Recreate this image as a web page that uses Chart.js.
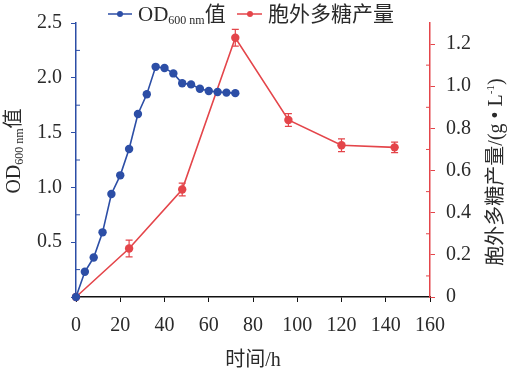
<!DOCTYPE html>
<html>
<head>
<meta charset="utf-8">
<script src="https://cdn.jsdelivr.net/npm/chart.js@4"></script>
<style>
  html, body { margin: 0; padding: 0; background: #fff; }
  #wrap { width: 510px; height: 373px; }
</style>
</head>
<body>
<div id="wrap"><canvas id="myChart" width="510" height="373"></canvas></div>
<script>
// data
var odTime  = [0, 4, 8, 12, 16, 20, 24, 28, 32, 36, 40, 44, 48, 52, 56, 60, 64, 68, 72];
var odValue = [0, 0.23, 0.36, 0.59, 0.94, 1.11, 1.35, 1.67, 1.85, 2.10, 2.09, 2.04, 1.95, 1.94, 1.90, 1.88, 1.87, 1.865, 1.86];

var epsTime  = [0, 24, 48, 72, 96, 120, 144];
var epsValue = [0, 0.23, 0.51, 1.23, 0.84, 0.72, 0.71];
var epsErr   = [0, 0.04, 0.03, 0.04, 0.03, 0.03, 0.025];

var xTicks      = [0, 20, 40, 60, 80, 100, 120, 140, 160];
var yLeftTicks  = [0, 0.5, 1.0, 1.5, 2.0, 2.5];
var yLeftMinor  = [0.25, 0.75, 1.25, 1.75, 2.25];
var yRightTicks = [0, 0.2, 0.4, 0.6, 0.8, 1.0, 1.2];
var yRightMinor = [0.1, 0.3, 0.5, 0.7, 0.9, 1.1];

var blue = '#2c4ea6';
var red = '#e4454a';
var txt = '#2a2a2a';
var serif = '"Liberation Serif", "Noto Sans CJK SC", serif';

function pts(xs, ys) {
  return xs.map(function (x, i) { return { x: x, y: ys[i] }; });
}

// draw a row of text pieces (normal / sub / sup) starting at x, baseline y
function drawPieces(ctx, pieces, x, y, measureOnly) {
  var w = 0;
  pieces.forEach(function (p) {
    ctx.font = p.size + 'px ' + serif;
    var pw = ctx.measureText(p.t).width;
    if (!measureOnly) ctx.fillText(p.t, x + w, y + (p.dy || 0));
    w += pw;
  });
  return w;
}

var decor = {
  id: 'decor',
  beforeDatasetsDraw: function (chart) {
    var ctx = chart.ctx;
    var xs = chart.scales.x, yl = chart.scales.y, yr = chart.scales.y1;
    ctx.save();
    // minor ticks (inward)
    ctx.lineWidth = 1;
    ctx.strokeStyle = blue;
    yLeftMinor.forEach(function (v) {
      var py = yl.getPixelForValue(v);
      ctx.beginPath(); ctx.moveTo(xs.left, py); ctx.lineTo(xs.left + 4, py); ctx.stroke();
    });
    ctx.strokeStyle = red;
    yRightMinor.forEach(function (v) {
      var py = yr.getPixelForValue(v);
      ctx.beginPath(); ctx.moveTo(xs.right, py); ctx.lineTo(xs.right - 4, py); ctx.stroke();
    });
    // error bars
    ctx.strokeStyle = red;
    ctx.lineWidth = 1.2;
    epsTime.forEach(function (t, i) {
      if (!epsErr[i]) return;
      var px = xs.getPixelForValue(t);
      var top = yr.getPixelForValue(epsValue[i] + epsErr[i]);
      var bot = yr.getPixelForValue(epsValue[i] - epsErr[i]);
      ctx.beginPath();
      ctx.moveTo(px, top); ctx.lineTo(px, bot);
      ctx.moveTo(px - 3.5, top); ctx.lineTo(px + 3.5, top);
      ctx.moveTo(px - 3.5, bot); ctx.lineTo(px + 3.5, bot);
      ctx.stroke();
    });
    ctx.restore();
  },
  afterDraw: function (chart) {
    var ctx = chart.ctx;
    var area = chart.chartArea;
    ctx.save();
    ctx.fillStyle = txt;
    ctx.textBaseline = 'alphabetic';
    ctx.textAlign = 'left';

    // legend
    var ly = 14;
    ctx.lineWidth = 1.5;
    ctx.strokeStyle = blue; ctx.fillStyle = blue;
    ctx.beginPath(); ctx.moveTo(108, ly); ctx.lineTo(132, ly); ctx.stroke();
    ctx.beginPath(); ctx.arc(120, ly, 3, 0, Math.PI * 2); ctx.fill();
    ctx.strokeStyle = red; ctx.fillStyle = red;
    ctx.beginPath(); ctx.moveTo(237, ly); ctx.lineTo(262, ly); ctx.stroke();
    ctx.beginPath(); ctx.arc(250, ly, 3, 0, Math.PI * 2); ctx.fill();
    ctx.fillStyle = txt;
    var odPieces = [
      { t: 'OD', size: 21 },
      { t: '600 nm', size: 12, dy: 3 },
      { t: '值', size: 21 }
    ];
    drawPieces(ctx, odPieces, 138, 21);
    drawPieces(ctx, [{ t: '胞外多糖产量', size: 21 }], 268, 21);

    // left axis title
    var lPieces = [
      { t: 'OD', size: 20 },
      { t: '600 nm', size: 12, dy: 3 },
      { t: '值', size: 20 }
    ];
    var lw = drawPieces(ctx, lPieces, 0, 0, true);
    ctx.save();
    ctx.translate(20, 151);
    ctx.rotate(-Math.PI / 2);
    drawPieces(ctx, lPieces, -lw / 2, 0);
    ctx.restore();

    // right axis title
    var rPieces = [
      { t: '胞外多糖产量/(g • L', size: 20 },
      { t: '-1', size: 11, dy: -8 },
      { t: ')', size: 20 }
    ];
    var rw = drawPieces(ctx, rPieces, 0, 0, true);
    ctx.save();
    ctx.translate(502, 172);
    ctx.rotate(-Math.PI / 2);
    drawPieces(ctx, rPieces, -rw / 2, 0);
    ctx.restore();

    // x axis title
    ctx.font = '20px ' + serif;
    ctx.textAlign = 'center';
    ctx.fillText('时间/h', (area.left + area.right) / 2, 366);
    ctx.restore();
  }
};

var ctx = document.getElementById('myChart').getContext('2d');

var odData = {
  label: 'OD600 nm值',
  data: pts(odTime, odValue),
  yAxisID: 'y',
  borderColor: blue,
  backgroundColor: blue,
  borderWidth: 1.6,
  pointRadius: 4.2,
  pointBorderWidth: 0,
  lineTension: 0,
  clip: false
};

var epsData = {
  label: '胞外多糖产量',
  data: pts(epsTime, epsValue),
  yAxisID: 'y1',
  borderColor: red,
  backgroundColor: red,
  borderWidth: 1.6,
  pointRadius: 4.2,
  pointBorderWidth: 0,
  lineTension: 0,
  clip: false
};

var tickFont = { family: serif, size: 20 };

var myChart = new Chart(ctx, {
  type: 'line',
  data: { datasets: [odData, epsData] },
  plugins: [decor],
  options: {
    responsive: false,
    animation: false,
    layout: { padding: { top: 22, left: 0, right: 0, bottom: 0 } },
    plugins: { legend: { display: false }, tooltip: { enabled: false } },
    scales: {
      x: {
        type: 'linear',
        min: 0, max: 160,
        afterFit: function (s) { s.height = 76; },
        afterBuildTicks: function (s) { s.ticks = xTicks.map(function (v) { return { value: v }; }); },
        grid: { display: true, drawOnChartArea: false, drawTicks: true, tickLength: 5, color: '#111' },
        border: { display: true, color: '#111', width: 1.5 },
        ticks: { font: tickFont, color: txt, padding: 12, maxRotation: 0 }
      },
      y: {
        position: 'left',
        min: 0, max: 2.5,
        afterFit: function (s) { s.width = 76; },
        afterBuildTicks: function (s) { s.ticks = yLeftTicks.map(function (v) { return { value: v }; }); },
        grid: { display: true, drawOnChartArea: false, drawTicks: true, tickLength: 5, color: blue },
        border: { display: true, color: blue, width: 1.5 },
        ticks: {
          font: tickFont, color: txt, padding: 9,
          callback: function (v) { return v === 0 ? '' : v.toFixed(1); }
        }
      },
      y1: {
        position: 'right',
        min: 0, max: 1.3,
        afterFit: function (s) { s.width = 80; },
        afterBuildTicks: function (s) { s.ticks = yRightTicks.map(function (v) { return { value: v }; }); },
        grid: { display: true, drawOnChartArea: false, drawTicks: true, tickLength: 5, color: red },
        border: { display: true, color: red, width: 1.5 },
        ticks: {
          font: tickFont, color: txt, padding: 11,
          callback: function (v) { return v === 0 ? '0' : v.toFixed(1); }
        }
      }
    }
  }
});
</script>
</body>
</html>
